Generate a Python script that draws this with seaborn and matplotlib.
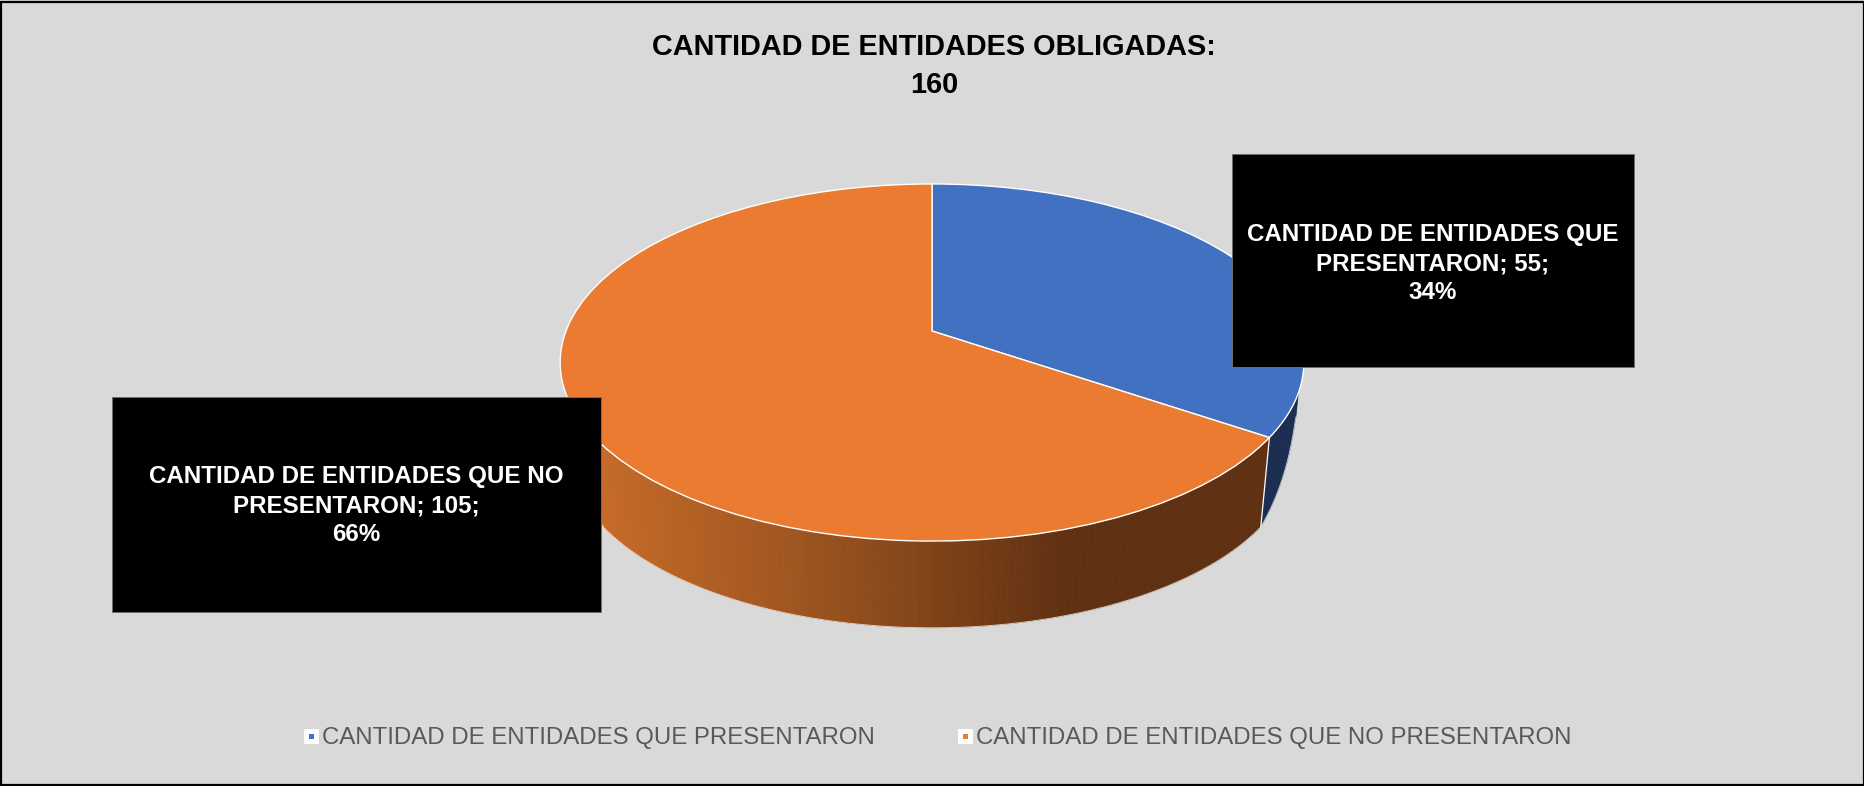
import numpy as np
import matplotlib
matplotlib.use("Agg")
import matplotlib.pyplot as plt
import seaborn as sns
from matplotlib.colors import LinearSegmentedColormap
from matplotlib.lines import Line2D
from matplotlib.patches import Rectangle
from matplotlib.transforms import Transform

title_text = "CANTIDAD DE ENTIDADES OBLIGADAS:\n160"
categories = ["CANTIDAD DE ENTIDADES QUE PRESENTARON", "CANTIDAD DE ENTIDADES QUE NO PRESENTARON"]
values = [55, 105]
label_heads = ["CANTIDAD DE ENTIDADES QUE\nPRESENTARON", "CANTIDAD DE ENTIDADES QUE NO\nPRESENTARON"]

sns.set_theme(style="white")
plt.rcParams['font.family'] = ['Liberation Sans', 'DejaVu Sans']

colors = sns.color_palette(["#4371C1", "#EB7B31"])
bg = "#D9D9D9"
orange_side = LinearSegmentedColormap.from_list("side", [(0, "#C56A28"), (0.4, "#A05620"), (1, "#5F3012")])
blue_side = "#1A2C50"

# pie is seen in perspective, so the centre is not the middle of the ellipse
CX, CY = 932, 331
SX, SY, K = 366, 173, 0.1765
VP_Y = 3944
BOTTOM = 0.9745
WALL_START, WALL_FULL = -0.33, -0.5556


def project(u, v, scale=1.0):
    w = 1 + K * v
    x = CX + SX * u / w
    y = CY - SY * v / w
    return CX + (x - CX) * scale, VP_Y - (VP_Y - y) * scale


def wall_scale(v):
    # the wall tapers out towards the sides of the ellipse
    g = np.clip((v - WALL_START) / (WALL_FULL - WALL_START), 0, 1) ** 0.4
    return 1 - (1 - BOTTOM) * g


class PiePerspective(Transform):
    input_dims = 2
    output_dims = 2

    def transform_non_affine(self, values):
        values = np.asarray(values)
        x, y = project(values[:, 0], values[:, 1])
        return np.column_stack([x, y])


fig = plt.figure(figsize=(18.65, 7.86), dpi=100, facecolor=bg)
ax = fig.add_axes([0, 0, 1, 1], facecolor=bg)

wedges, _ = ax.pie(values, colors=colors, startangle=90, counterclock=False, radius=1,
                   wedgeprops={'edgecolor': 'white', 'linewidth': 1.0, 'zorder': 3})
ax.set_aspect('auto')
ax.set_xlim(0, 1865)
ax.set_ylim(786, 0)
ax.set_axis_off()

for wedge in wedges:
    wedge.set_transform(PiePerspective() + ax.transData)

# side wall, strip by strip, only the front part shows
for i, wedge in enumerate(wedges):
    angles = np.arange(wedge.theta1, wedge.theta2, 1.0)
    angles = np.append(angles, wedge.theta2)
    edge_x, edge_y = [], []
    for a0, a1 in zip(angles[:-1], angles[1:]):
        u = np.cos(np.radians([a0, a1]))
        v = np.sin(np.radians([a0, a1]))
        if v.max() > WALL_START:
            continue
        xt, yt = project(u, v)
        xb, yb = project(u, v, wall_scale(v))
        if i == 0:
            c = blue_side
        else:
            c = orange_side(np.clip((xt.mean() - 600) / 475, 0, 1))
        ax.fill([xt[0], xt[1], xb[1], xb[0]], [yt[0], yt[1], yb[1], yb[0]],
                facecolor=c, edgecolor=c, linewidth=0.5, zorder=1)
        edge_x.extend(xb)
        edge_y.extend(yb)
    ax.plot(edge_x, edge_y, color='white', lw=0.7, alpha=0.7, zorder=2)

# white seam where the two walls meet
seam = np.radians(wedges[0].theta1)
xs0, ys0 = project(np.cos(seam), np.sin(seam))
xs1, ys1 = project(np.cos(seam), np.sin(seam), BOTTOM)
ax.plot([xs0, xs1], [ys0, ys1], color='white', lw=0.9, zorder=2)

ax.text(934, 66, title_text, ha='center', va='center', fontsize=20.8, fontweight='bold',
        color='black', linespacing=1.46)

total = sum(values)
boxes = [(1232, 154, 402, 213), (112, 397, 489, 215)]
text_shift = [3, 1]
for head, val, (bx, by, bw, bh), dy in zip(label_heads, values, boxes, text_shift):
    ax.add_patch(Rectangle((bx, by), bw, bh, facecolor='black', edgecolor='#6E6E6E', lw=0.7, zorder=4))
    ax.text(bx + bw / 2, by + bh / 2 + dy, f"{head}; {val};\n{round(val / total * 100)}%",
            ha='center', va='center', color='white', fontsize=17.4, fontweight='bold',
            linespacing=1.32, zorder=5)

handles = [Line2D([], [], linestyle='', marker='s', markersize=7.9, markerfacecolor=c,
                  markeredgecolor='white', markeredgewidth=3.6) for c in colors]
ax.legend(handles, categories, loc='center', bbox_to_anchor=(936, 738), bbox_transform=ax.transData,
          ncol=2, frameon=False, fontsize=17.26, labelcolor='#595959', handlelength=0.9,
          handletextpad=0.0, columnspacing=3.3, borderpad=0)

ax.add_patch(Rectangle((1, 1.5), 1863, 783, facecolor='none', edgecolor='black', lw=1.6, zorder=6))

fig.savefig("out.png", dpi=100, facecolor=bg)
